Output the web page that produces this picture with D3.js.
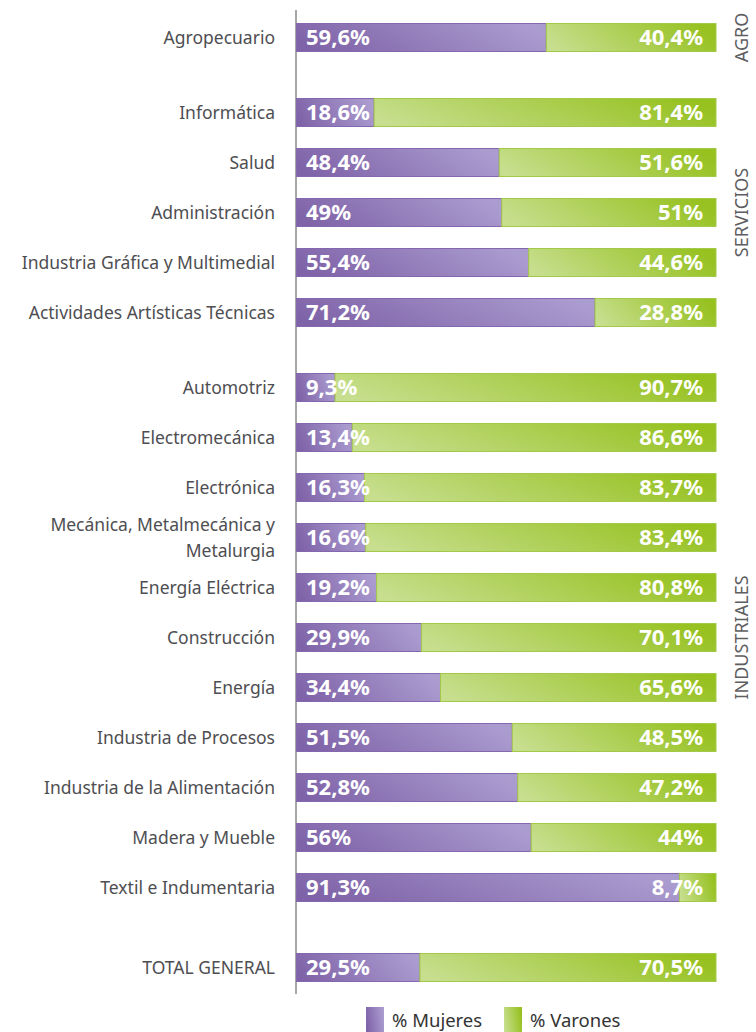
<!DOCTYPE html>
<html>
<head>
<meta charset="utf-8">
<script src="https://cdn.jsdelivr.net/npm/d3@7"></script>
<style>
  body { margin: 0; background: #fff; }
  svg { display: block; }
</style>
</head>
<body>
<script>
// Mujeres / Varones por familia profesional

var categories = [
  'Agropecuario',
  'Informática', 'Salud', 'Administración', 'Industria Gráfica y Multimedial', 'Actividades Artísticas Técnicas',
  'Automotriz', 'Electromecánica', 'Electrónica', 'Mecánica, Metalmecánica y|Metalurgia', 'Energía Eléctrica',
  'Construcción', 'Energía', 'Industria de Procesos', 'Industria de la Alimentación', 'Madera y Mueble', 'Textil e Indumentaria',
  'TOTAL GENERAL'
];
var sectorOf = [
  'AGRO',
  'SERVICIOS', 'SERVICIOS', 'SERVICIOS', 'SERVICIOS', 'SERVICIOS',
  'INDUSTRIALES', 'INDUSTRIALES', 'INDUSTRIALES', 'INDUSTRIALES', 'INDUSTRIALES',
  'INDUSTRIALES', 'INDUSTRIALES', 'INDUSTRIALES', 'INDUSTRIALES', 'INDUSTRIALES', 'INDUSTRIALES',
  'TOTAL'
];
var mujeres = [59.6, 18.6, 48.4, 49, 55.4, 71.2, 9.3, 13.4, 16.3, 16.6, 19.2, 29.9, 34.4, 51.5, 52.8, 56, 91.3, 29.5];
var varones = [40.4, 81.4, 51.6, 51, 44.6, 28.8, 90.7, 86.6, 83.7, 83.4, 80.8, 70.1, 65.6, 48.5, 47.2, 44, 8.7, 70.5];
var sectorLabels = ['AGRO', 'SERVICIOS', 'INDUSTRIALES'];
var legendLabels = ['% Mujeres', '% Varones'];

var svgWidth = 756;
var svgHeight = 1032;

var svg = d3.select('body').append('svg')
  .attr('width', svgWidth)
  .attr('height', svgHeight);

// gradients
var defs = svg.append('defs');
function grad(id, c0, c1) {
  var g = defs.append('linearGradient').attr('id', id)
    .attr('x1', '0%').attr('y1', '60%').attr('x2', '100%').attr('y2', '40%');
  g.append('stop').attr('offset', '0%').attr('stop-color', c0);
  g.append('stop').attr('offset', '100%').attr('stop-color', c1);
}
grad('gMuj', '#7f63a8', '#ab9cd0');
grad('gVar', '#c6de8d', '#96c11f');

// extra gap (in rows) before each sector block
var sectorGap = { 'AGRO': 0, 'SERVICIOS': 0.5, 'INDUSTRIALES': 1, 'TOTAL': 1.6 };

var rows = categories.map(function(c, i) {
  return {
    name: c,
    sector: sectorOf[i],
    slot: i + sectorGap[sectorOf[i]],
    m: mujeres[i],
    v: varones[i]
  };
});

var xScale = d3.scaleLinear().domain([0, 100]).range([296, 716]);
var yScale = d3.scaleLinear().domain([0, 1]).range([37.5, 87.5]);
var barH = 28;

var fmt = function(v) { return String(v).replace('.', ',') + '%'; };

// axis line
svg.append('line')
  .attr('x1', xScale(0)).attr('x2', xScale(0))
  .attr('y1', 10).attr('y2', 994)
  .attr('stroke', '#8a8a8a')
  .attr('stroke-width', 1.5);

var row = svg.selectAll('g.row')
  .data(rows)
  .enter()
  .append('g')
  .attr('class', 'row')
  .attr('transform', function(d) { return 'translate(0,' + yScale(d.slot) + ')'; });

row.append('rect')
  .attr('x', xScale(0) + 0.5)
  .attr('y', -barH / 2)
  .attr('width', function(d) { return xScale(d.m) - xScale(0) - 0.5; })
  .attr('height', barH)
  .attr('fill', 'url(#gMuj)')
  .attr('stroke', '#8567b0')
  .attr('stroke-width', 1);

row.append('rect')
  .attr('x', function(d) { return xScale(d.m); })
  .attr('y', -barH / 2)
  .attr('width', function(d) { return xScale(100) - xScale(d.m); })
  .attr('height', barH)
  .attr('fill', 'url(#gVar)')
  .attr('stroke', '#a3c948')
  .attr('stroke-width', 1);

row.append('text')
  .attr('x', xScale(0) + 10)
  .attr('y', 0)
  .attr('dy', '0.36em')
  .attr('fill', '#fff')
  .attr('font-family', 'Noto Sans, sans-serif')
  .attr('font-weight', 'bold')
  .attr('font-size', 22)
  .text(function(d) { return fmt(d.m); });

row.append('text')
  .attr('x', xScale(100) - 13)
  .attr('y', 0)
  .attr('dy', '0.36em')
  .attr('text-anchor', 'end')
  .attr('fill', '#fff')
  .attr('font-family', 'Noto Sans, sans-serif')
  .attr('font-weight', 'bold')
  .attr('font-size', 22)
  .text(function(d) { return fmt(d.v); });

// category labels (| splits lines)
row.each(function(d) {
  var lines = d.name.split('|');
  var t = d3.select(this).append('text')
    .attr('x', 275)
    .attr('text-anchor', 'end')
    .attr('fill', '#4e4e52')
    .attr('font-family', 'Noto Sans, sans-serif')
    .attr('font-size', 17.5);
  lines.forEach(function(l, k) {
    t.append('tspan')
      .attr('x', 275)
      .attr('y', (k - (lines.length - 1) / 2) * 26)
      .attr('dy', '0.35em')
      .text(l);
  });
});

// sector labels on the right
sectorLabels.forEach(function(s) {
  var members = rows.filter(function(r) { return r.sector === s; });
  var mid = (yScale(members[0].slot) + yScale(members[members.length - 1].slot)) / 2;
  svg.append('text')
    .attr('transform', 'translate(742,' + mid + ') rotate(-90)')
    .attr('text-anchor', 'middle')
    .attr('dy', '0.35em')
    .attr('fill', '#5e5e62')
    .attr('font-family', 'Noto Sans, sans-serif')
    .attr('font-size', 18)
    .text(s);
});

// legend
var legend = svg.append('g').attr('transform', 'translate(366,1007)');
var legendX = [0, 138];
var legendFill = ['url(#gMuj)', 'url(#gVar)'];
legendLabels.forEach(function(l, i) {
  legend.append('rect')
    .attr('x', legendX[i])
    .attr('y', 0)
    .attr('width', 18)
    .attr('height', 26)
    .attr('fill', legendFill[i]);
  legend.append('text')
    .attr('x', legendX[i] + 26)
    .attr('y', 20)
    .attr('fill', '#333')
    .attr('font-family', 'Noto Sans, sans-serif')
    .attr('font-size', 18.5)
    .text(l);
});
</script>
</body>
</html>
